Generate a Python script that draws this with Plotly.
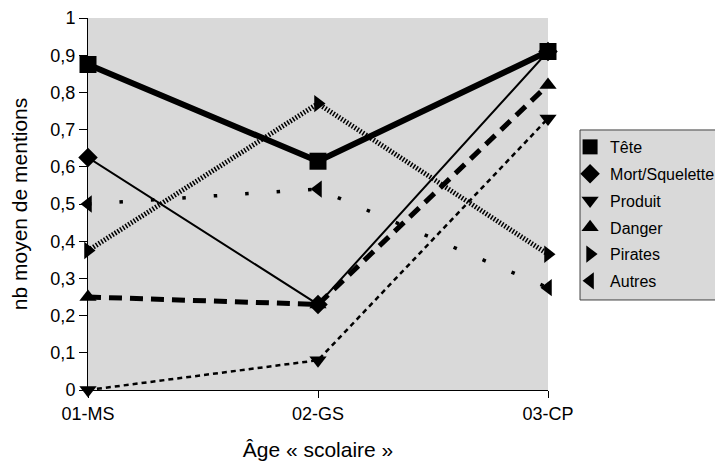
import plotly.graph_objects as go

categories = ["01-MS", "02-GS", "03-CP"]
series_names = ["Tête", "Mort/Squelette", "Produit", "Danger", "Pirates", "Autres"]
tete = [0.875, 0.615, 0.91]
mort_squelette = [0.625, 0.23, 0.91]
produit = [0.0, 0.08, 0.73]
danger = [0.25, 0.23, 0.82]
pirates = [0.375, 0.77, 0.365]
autres = [0.5, 0.54, 0.275]
y_ticks = [i / 10 for i in range(11)]

values = [tete, mort_squelette, produit, danger, pirates, autres]
styles = [
    dict(width=6, dash="solid", symbol="square", size=17),
    dict(width=2, dash="solid", symbol="diamond", size=15),
    dict(width=2.5, dash="5px,4px", symbol="triangle-down", size=15),
    dict(width=5, dash="13px,8px", symbol="triangle-up", size=15),
    dict(width=5, dash="1.5px,1.7px", symbol="triangle-right", size=15),
    dict(width=3.5, dash="3.5px,28px", symbol="triangle-left", size=15),
]

xs = list(range(len(categories)))
fig = go.Figure()
for name, vals, st in zip(series_names, values, styles):
    fig.add_trace(go.Scatter(
        x=xs, y=vals, mode="lines+markers", name=name, showlegend=False,
        line=dict(color="black", width=st["width"], dash=st["dash"]),
        marker=dict(symbol=st["symbol"], size=st["size"], color="black"),
        cliponaxis=False,
    ))
for i, (name, st) in enumerate(zip(series_names, styles)):
    fig.add_trace(go.Scatter(
        x=[None], y=[None], mode="markers", name=name, legendgroup="g%d" % i,
        marker=dict(symbol=st["symbol"], size=15, color="black"),
    ))

# legend frame
fig.add_shape(type="rect", xref="paper", yref="paper",
              x0=1.0696, x1=1.40, y0=0.242, y1=0.699,
              line=dict(color="#404040", width=1), fillcolor="#d9d9d9", layer="below")

font_family = "Liberation Sans, Arial, sans-serif"
fig.update_layout(
    width=715, height=468,
    margin=dict(l=88, r=167, t=18, b=78, autoexpand=False),
    paper_bgcolor="white",
    plot_bgcolor="#d9d9d9",
    separators=", ",
    font=dict(family=font_family, size=18, color="black"),
    showlegend=True,
    legend=dict(
        x=1.048, y=0.699, xanchor="left", yanchor="top",
        bgcolor="rgba(0,0,0,0)", borderwidth=0,
        font=dict(family=font_family, size=16, color="black"),
        tracegroupgap=3, itemwidth=30,
    ),
    xaxis=dict(
        range=[0, 2], tickvals=xs, ticktext=categories,
        showgrid=False, zeroline=False, showline=True, linecolor="black", linewidth=1,
        ticks="outside", ticklen=7, tickcolor="black",
        title=dict(text="Âge « scolaire »", font=dict(size=21), standoff=19),
    ),
    yaxis=dict(
        range=[0, 1], tickvals=y_ticks,
        showgrid=False, zeroline=False, showline=True, linecolor="black", linewidth=1,
        ticks="outside", ticklen=8, tickcolor="black",
        title=dict(text="nb moyen de mentions", font=dict(size=21), standoff=17),
    ),
)

fig.write_html("out.html", config={"displayModeBar": False},
               post_script="document.body.style.margin='0';")
